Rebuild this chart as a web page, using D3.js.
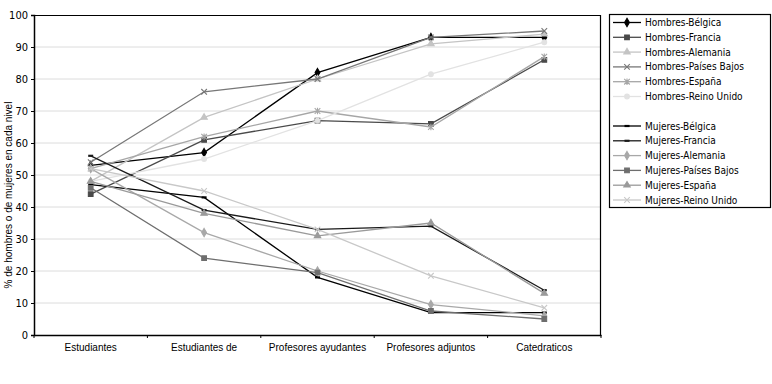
<!DOCTYPE html>
<html>
<head>
<meta charset="utf-8">
<script src="https://cdn.jsdelivr.net/npm/d3@7"></script>
<style>
  body { margin: 0; background: #fff; }
  svg text { font-family: "Liberation Sans Narrow", "DejaVu Sans Condensed", sans-serif; font-size: 11px; fill: #000; }
</style>
</head>
<body>
<div id="chart"></div>
<script>
// % of men / women per academic level, by country
const categories = ['Estudiantes', 'Estudiantes de', 'Profesores ayudantes', 'Profesores adjuntos', 'Catedraticos'];
const yTicks = [0, 10, 20, 30, 40, 50, 60, 70, 80, 90, 100];

const hBelgica     = [53, 57, 82, 93, 93];
const hFrancia     = [44, 61, 67, 66, 86];
const hAlemania    = [48, 68, 80, 91, 94];
const hPaisesBajos = [54, 76, 80, 93, 95];
const hEspana      = [52, 62, 70, 65, 87];
const hReinoUnido  = [48, 55, 67, 81.5, 91.5];

const mBelgica     = [47, 43, 18, 7, 7];
const mFrancia     = [56, 39, 33, 34, 14];
const mAlemania    = [52, 32, 20, 9.5, 6];
const mPaisesBajos = [46, 24, 19.5, 7.5, 5];
const mEspana      = [48, 38, 31, 35, 13];
const mReinoUnido  = [52, 45, 33, 18.5, 8.5];

const series = [
  { name: 'Hombres-Bélgica',      values: hBelgica,     color: '#000000', marker: 'diamond' },
  { name: 'Hombres-Francia',      values: hFrancia,     color: '#4a4a4a', marker: 'square' },
  { name: 'Hombres-Alemania',     values: hAlemania,    color: '#c4c4c4', marker: 'triangle' },
  { name: 'Hombres-Países Bajos', values: hPaisesBajos, color: '#777777', marker: 'x' },
  { name: 'Hombres-España',       values: hEspana,      color: '#a6a6a6', marker: 'star' },
  { name: 'Hombres-Reino Unido',  values: hReinoUnido,  color: '#e2e2e2', marker: 'circle' },
  { name: 'Mujeres-Bélgica',      values: mBelgica,     color: '#000000', marker: 'dash' },
  { name: 'Mujeres-Francia',      values: mFrancia,     color: '#1a1a1a', marker: 'dash' },
  { name: 'Mujeres-Alemania',     values: mAlemania,    color: '#a8a8a8', marker: 'diamond' },
  { name: 'Mujeres-Países Bajos', values: mPaisesBajos, color: '#6e6e6e', marker: 'square' },
  { name: 'Mujeres-España',       values: mEspana,      color: '#9a9a9a', marker: 'triangle' },
  { name: 'Mujeres-Reino Unido',  values: mReinoUnido,  color: '#c8c8c8', marker: 'x' },
];

const W = 772, H = 384;
const plot = { left: 34, top: 15, right: 601, bottom: 335 };

const svg = d3.select('#chart').append('svg')
  .attr('width', W).attr('height', H);

const x = d3.scaleBand().domain(categories).range([plot.left, plot.right]);
const y = d3.scaleLinear().domain([0, 100]).range([plot.bottom, plot.top]);

// gridlines
svg.append('g').selectAll('line')
  .data(yTicks.filter(t => t > 0 && t < 100))
  .join('line')
  .attr('x1', plot.left).attr('x2', plot.right)
  .attr('y1', d => y(d)).attr('y2', d => y(d))
  .attr('stroke', '#dcdcdc').attr('stroke-width', 1);

// plot frame (top + right)
svg.append('path')
  .attr('d', `M${plot.left},${plot.top + 0.5}H${plot.right - 0.5}V${plot.bottom}`)
  .attr('fill', 'none').attr('stroke', '#000').attr('stroke-width', 1.2);

// axes
const yAxis = svg.append('g')
  .attr('transform', `translate(${plot.left},0)`)
  .call(d3.axisLeft(y).tickValues(yTicks).tickSize(3).tickPadding(3));
yAxis.select('.domain').attr('stroke-width', 1.5);

const xAxis = svg.append('g')
  .attr('transform', `translate(0,${plot.bottom})`)
  .call(d3.axisBottom(x).tickSize(0).tickPadding(9));
xAxis.select('.domain').attr('stroke-width', 1.5);
xAxis.selectAll('text').style('font-family', '"Liberation Sans", sans-serif').style('font-size', '10px');
svg.append('g').selectAll('line')
  .data(d3.range(categories.length + 1))
  .join('line')
  .attr('x1', i => plot.left + i * x.step()).attr('x2', i => plot.left + i * x.step())
  .attr('y1', plot.bottom).attr('y2', plot.bottom + 3)
  .attr('stroke', '#000');

svg.append('text')
  .attr('transform', `translate(12,${(plot.top + plot.bottom) / 2 + 20}) rotate(-90)`)
  .attr('text-anchor', 'middle')
  .style('font-family', '"Liberation Sans", sans-serif')
  .style('font-size', '10px')
  .text('% de hombres o de mujeres en cada nivel');

// markers
function markerPath(type) {
  switch (type) {
    case 'diamond':  return d3.symbol(d3.symbolDiamond, 20)();
    case 'square':   return d3.symbol(d3.symbolSquare, 22)();
    case 'triangle': return d3.symbol(d3.symbolTriangle, 18)();
    case 'circle':   return d3.symbol(d3.symbolCircle, 18)();
    case 'x':        return 'M-2.8,-2.8L2.8,2.8M-2.8,2.8L2.8,-2.8';
    case 'star':     return 'M-2.8,-2.8L2.8,2.8M-2.8,2.8L2.8,-2.8M0,-3.2V3.2';
    case 'dash':     return 'M-2.5,0H2.5';
  }
}
const stroked = t => t === 'x' || t === 'star' || t === 'dash';

const line = d3.line()
  .x((d, i) => x(categories[i]) + x.bandwidth() / 2)
  .y(d => y(d));

const sg = svg.append('g').selectAll('g')
  .data(series)
  .join('g');

sg.append('path')
  .attr('d', d => line(d.values))
  .attr('fill', 'none')
  .attr('stroke', d => d.color)
  .attr('stroke-width', 1.3);

sg.each(function (s) {
  d3.select(this).selectAll('path.m')
    .data(s.values)
    .join('path')
    .attr('class', 'm')
    .attr('transform', (v, i) => `translate(${x(categories[i]) + x.bandwidth() / 2},${y(v)})`)
    .attr('d', markerPath(s.marker))
    .attr('fill', stroked(s.marker) ? 'none' : s.color)
    .attr('stroke', s.color)
    .attr('stroke-width', s.marker === 'dash' ? 2.2 : 1.1);
});

// legend
const lg = svg.append('g').attr('transform', 'translate(609,14)');
lg.append('rect')
  .attr('x', 0.5).attr('y', 0.5).attr('width', 161).attr('height', 193)
  .attr('fill', '#fff').attr('stroke', '#000').attr('stroke-width', 1.2);

const rowY = i => (i < 6 ? 8.5 + i * 14.8 : 112 + (i - 6) * 14.8);
const items = lg.selectAll('g.item')
  .data(series)
  .join('g')
  .attr('class', 'item')
  .attr('transform', (d, i) => `translate(0,${rowY(i)})`);
items.append('line')
  .attr('x1', 4).attr('x2', 32).attr('y1', 0).attr('y2', 0)
  .attr('stroke', d => d.color).attr('stroke-width', 1.3);
items.append('path')
  .attr('transform', 'translate(18,0)')
  .attr('d', d => markerPath(d.marker))
  .attr('fill', d => stroked(d.marker) ? 'none' : d.color)
  .attr('stroke', d => d.color)
  .attr('stroke-width', d => d.marker === 'dash' ? 2.2 : 1.1);
items.append('text')
  .attr('x', 36).attr('y', 0).attr('dy', '0.35em')
  .style('font-size', '10px')
  .text(d => d.name);
</script>
</body>
</html>
